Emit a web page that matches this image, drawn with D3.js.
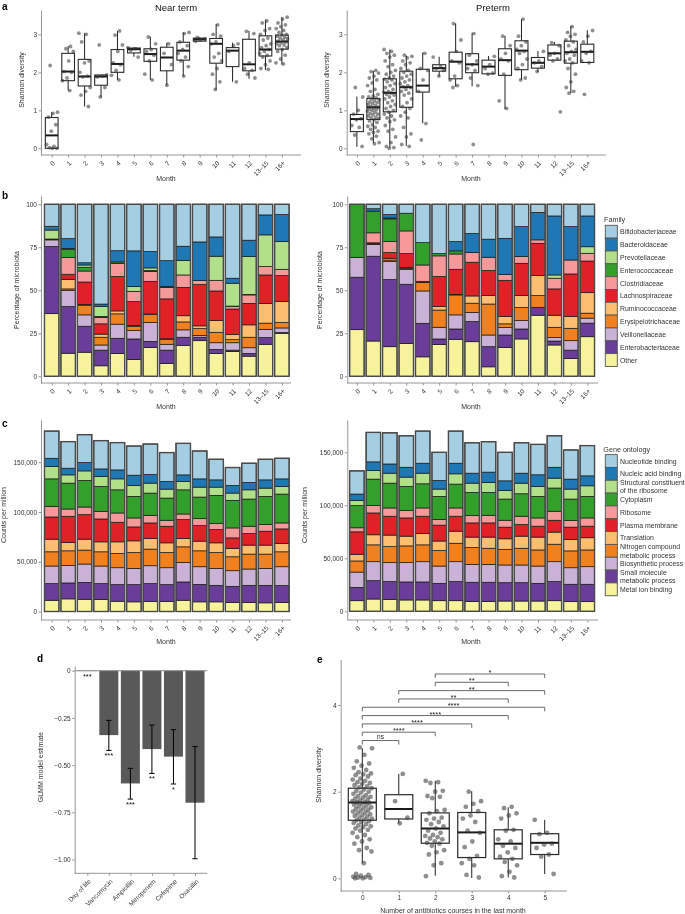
<!DOCTYPE html>
<html><head><meta charset="utf-8">
<script src="https://cdn.jsdelivr.net/npm/d3@7"></script>
<style>body{margin:0;background:#fff} svg{font-family:"Liberation Sans",Arial,Helvetica,sans-serif;will-change:transform;transform:translateZ(0);-webkit-font-smoothing:antialiased}</style>
</head><body><svg id="fig" width="685" height="914"></svg>
<script>
// ---------------- DATA ----------------
const months = ["0","1","2","3","4","5","6","7","8","9","10","11","12","13–15","16+"];

// Panel a: Shannon diversity, near term
const nearTermPoints = [
 [2.18,0.95,0.92,0.82,0.62,0.45,0.10,0.05,0.02,0.00,0.00],
 [2.68,2.62,2.55,2.30,2.02,2.00,1.85,1.78,1.52],
 [3.03,3.00,2.80,2.30,2.25,2.00,1.90,1.88,1.60,1.50,1.40,1.10],
 [2.72,1.93,1.90,1.88,1.60,1.35],
 [3.09,2.98,2.72,2.55,2.25,2.20,2.05,1.92,1.80],
 [2.65,2.62,2.58,2.40],
 [2.93,2.75,2.60,2.55,2.45,2.30,1.95,1.80],
 [2.75,2.50,2.20,1.66],
 [3.05,3.02,2.80,2.70,2.60,2.50,2.40,2.30,2.15,1.90],
 [2.92,2.88,2.85,2.82],
 [3.25,3.00,2.95,2.80,2.75,2.50,2.40,2.30,2.10,1.95,1.75,1.55],
 [2.75,2.70,2.55,1.75],
 [3.08,3.02,2.25,2.10,2.05,1.95,1.85],
 [3.35,3.30,3.15,3.10,3.00,2.90,2.85,2.75,2.70,2.65,2.60,2.55,2.50,2.45,2.40,2.30,2.20,2.10,2.08],
 [3.45,3.40,3.30,3.25,3.20,3.15,3.10,3.05,3.00,2.98,2.95,2.92,2.90,2.88,2.85,2.82,2.80,2.78,2.75,2.72,2.70,2.65,2.60,2.55,2.45,2.35,2.25,2.22]
];
// [lower whisker, Q1, median, Q3, upper whisker]
const nearTermBox = [
 [0,0,0.34,0.81,0.95],[1.52,1.78,2.02,2.50,2.69],[1.10,1.64,1.89,2.34,3.03],[1.35,1.66,1.89,1.93,1.93],
 [1.80,2.00,2.22,2.60,3.09],[2.41,2.51,2.61,2.64,2.65],[1.80,2.29,2.48,2.62,2.94],[1.66,2.04,2.39,2.66,2.78],
 [1.90,2.32,2.57,2.79,3.05],[2.82,2.82,2.87,2.90,2.92],[1.55,2.24,2.75,2.89,3.27],[1.75,2.15,2.57,2.65,2.78],
 [1.83,2.04,2.21,2.87,3.09],[2.06,2.43,2.60,2.96,3.38],[2.20,2.61,2.81,2.98,3.45]
];
// Panel a: preterm
const pretermPoints = [
 [1.6,1.35,1.0,0.9,0.78,0.75,0.6,0.55,0.35,0.05],
 [2.05,2.02,1.98,1.9,1.85,1.8,1.72,1.65,1.55,1.5,1.42,1.38,1.35,1.33,1.3,1.28,1.25,1.22,1.2,1.18,1.15,1.12,1.1,1.08,1.06,1.04,1.02,1.0,0.98,0.95,0.92,0.9,0.88,0.85,0.82,0.8,0.78,0.75,0.72,0.68,0.62,0.58,0.55,0.5,0.45,0.42,0.38,0.32,0.25,0.15,0.12],
 [2.6,2.55,2.5,2.45,2.4,2.3,2.2,2.15,2.05,2.0,1.95,1.9,1.85,1.82,1.8,1.75,1.7,1.65,1.6,1.55,1.5,1.48,1.45,1.42,1.4,1.35,1.3,1.25,1.2,1.15,1.1,1.05,1.0,0.95,0.9,0.85,0.8,0.75,0.7,0.6,0.5,0.45,0.3,0.15,0.05,0.02,0.0],
 [2.45,2.42,2.38,2.3,2.25,2.2,2.1,2.05,2.0,1.95,1.9,1.85,1.8,1.75,1.7,1.65,1.62,1.6,1.55,1.5,1.45,1.4,1.3,1.2,1.1,1.05,0.95,0.85,0.8,0.55,0.38,0.3,0.1,0.05],
 [2.5,2.1,2.05,1.8,1.5,0.65,0.22],
 [2.4,2.15,2.1,2.05,1.9],
 [3.28,2.85,2.55,2.3,2.25,1.9,1.8,1.65,1.6],
 [3.02,2.45,2.3,2.2,2.1,2.05,1.85,1.65,0.1],
 [2.42,2.2,2.1,1.98,1.95],
 [2.95,2.7,2.5,2.35,2.3,1.95,1.25,1.05],
 [3.4,2.95,2.8,2.7,2.6,2.55,2.5,2.35,2.2,2.1,1.85,1.8],
 [2.55,2.3,2.25,2.15,2.02],
 [2.78,2.7,2.5,2.45,2.35,2.3,0.96],
 [3.2,3.05,3.0,2.95,2.85,2.8,2.7,2.6,2.55,2.5,2.45,2.35,2.3,2.25,2.1,1.95,1.75,1.6,1.5,1.45],
 [3.1,2.95,2.8,2.55,2.5,2.3,2.25,1.42]
];
const pretermBox = [
 [0.04,0.44,0.77,0.89,1.36],[0.13,0.76,1.08,1.31,2.04],[0.02,0.96,1.46,1.83,2.6],[0.06,1.08,1.61,2.03,2.44],
 [0.66,1.48,1.65,2.08,2.52],[1.9,2.03,2.11,2.2,2.41],[1.62,1.83,2.28,2.53,3.29],[1.63,1.99,2.21,2.49,3.04],
 [1.96,1.96,2.15,2.32,2.43],[1.03,1.92,2.32,2.62,2.96],[1.8,2.07,2.57,2.83,3.4],[2.01,2.11,2.25,2.39,2.56],
 [2.32,2.32,2.5,2.72,2.8],[1.45,2.24,2.53,2.82,3.22],[2.26,2.26,2.54,2.74,3.11]
];

// Panel b: families, bottom to top of stack
const families = ["Other","Enterobacteriaceae","Veillonellaceae","Erysipelotrichaceae","Ruminococcaceae","Lachnospiraceae","Clostridiaceae","Enterococcaceae","Prevotellaceae","Bacteroidaceae","Bifidobacteriaceae"];
const familyColors = ["#f7f39c","#6a3d9a","#cab2d6","#f1801f","#fdbf6f","#df2226","#f59a9a","#33a02c","#b2df8a","#1f78b4","#a6cee3"];
// cumulative percentage (top of each family) per month
const nearTermFamilyCum = [
 [36.4,75.4,79.3,79.3,79.3,79.5,79.5,79.8,85.0,87.2,100],
 [13.4,40.5,50.0,50.8,56.4,59.3,69.0,73.8,74.3,80.0,100],
 [14.0,29.1,35.7,41.3,41.8,54.8,61.2,63.4,64.7,66.0,100],
 [6.1,15.2,18.2,22.7,24.5,30.5,34.2,34.8,40.5,42.0,100],
 [13.3,22.1,30.3,36.3,38.0,58.0,65.5,66.5,66.5,73.0,100],
 [9.8,21.7,26.6,29.0,29.5,43.4,49.4,49.4,52.1,72.9,100],
 [16.8,20.3,31.3,35.9,36.2,55.2,61.0,61.5,63.0,72.5,100],
 [7.4,15.2,18.6,21.5,21.8,45.0,51.7,52.2,52.2,67.2,100],
 [18.0,22.7,27.0,31.6,35.2,51.7,58.9,58.9,67.4,75.6,100],
 [20.7,22.7,23.8,27.7,29.3,53.3,55.6,55.6,55.6,78.1,100],
 [13.3,15.6,19.5,25.6,32.4,49.6,55.8,55.8,69.8,81.0,100],
 [14.5,15.2,19.5,21.3,24.2,39.1,40.5,40.8,54.1,57.0,100],
 [11.7,13.3,16.6,22.7,29.9,42.4,47.3,47.6,69.6,79.1,100],
 [18.6,22.5,27.3,30.9,42.4,58.9,63.8,63.8,82.2,93.8,100],
 [25.0,25.4,28.1,31.3,43.4,58.5,62.2,62.2,78.3,94.0,100]
];
const pretermFamilyCum = [
 [27.1,57.6,69.0,69.0,69.0,69.0,69.0,100,100,100,100],
 [20.5,69.8,76.7,77.0,77.0,77.6,83.4,96.0,96.0,97.4,100],
 [17.2,56.2,66.7,67.6,68.6,71.9,78.3,91.5,92.0,94.0,100],
 [19.0,53.5,62.2,62.7,63.2,71.3,84.5,94.8,94.8,94.8,100],
 [11.3,30.8,49.6,54.6,54.6,55.2,64.7,77.7,77.7,77.7,100],
 [18.4,21.7,28.5,38.5,40.5,58.0,70.0,71.3,71.3,71.3,100],
 [21.5,27.5,35.7,47.3,47.6,62.2,71.1,72.9,72.9,78.3,100],
 [20.1,31.8,37.1,42.5,46.7,66.3,72.0,72.0,72.0,83.0,100],
 [5.5,17.2,24.0,42.0,47.0,61.5,69.2,69.2,69.2,79.7,100],
 [16.8,24.0,28.3,30.5,34.8,55.8,59.1,59.1,59.1,80.2,100],
 [21.7,27.5,32.4,40.0,47.0,65.7,69.6,69.6,69.6,87.0,100],
 [35.5,40.1,40.1,46.9,58.5,77.3,79.3,79.3,79.3,95.3,100],
 [18.2,20.5,22.5,28.5,35.5,50.8,57.0,57.0,58.9,93.2,100],
 [10.4,15.2,20.7,27.9,34.8,59.5,67.6,67.6,67.6,87.0,100],
 [23.0,30.9,33.8,36.7,48.6,67.0,71.5,71.5,75.3,93.2,100]
];

// Panel c: gene ontology, bottom to top of stack
const goTerms = ["Metal ion binding","Small molecule\nmetabolic process","Biosynthetic process","Nitrogen compound\nmetabolic process","Translation","Plasma membrane","Ribosome","Cytoplasm","Structural constituent\nof the ribosome","Nucleic acid binding","Nucleotide binding"];
const goColors = familyColors;
// cumulative counts per million (thousands) per month
const nearTermGoCumK = [
 [11.3,28.0,45.7,60.0,72.7,95.0,105.7,133.3,145.7,154.0,181.3],
 [12.7,28.7,46.3,61.0,69.3,95.7,103.0,129.0,137.3,144.0,170.7],
 [12.3,29.3,47.7,61.7,72.7,97.3,105.0,131.7,141.3,149.7,177.7],
 [12.0,28.0,45.7,60.0,70.0,93.0,100.7,125.7,135.7,143.3,171.7],
 [10.3,27.0,44.0,58.3,70.0,89.7,99.0,122.3,133.3,142.3,169.7],
 [9.7,27.0,43.3,59.3,71.0,85.0,94.0,115.7,126.7,137.0,166.3],
 [10.0,28.0,46.0,62.7,73.3,89.0,96.7,119.0,129.0,137.7,168.3],
 [10.0,27.0,44.0,59.3,69.0,85.7,91.7,114.0,123.0,130.7,159.7],
 [11.3,29.7,49.3,65.0,73.3,92.3,98.0,122.3,130.7,137.3,169.0],
 [9.7,27.3,45.0,61.0,70.7,86.3,93.3,115.0,125.0,133.3,161.3],
 [9.7,26.3,43.3,59.3,69.0,82.3,88.3,116.7,125.0,132.3,153.0],
 [9.0,25.3,41.0,55.0,63.3,74.0,84.0,111.7,119.0,126.7,144.7],
 [9.0,26.3,42.7,57.7,66.7,78.3,85.7,113.0,122.3,129.7,149.0],
 [8.7,26.3,43.3,57.7,66.7,80.7,87.3,115.7,124.0,132.3,153.0],
 [9.0,26.0,45.0,60.0,68.3,83.0,89.0,118.0,125.7,133.3,154.0]
];
const pretermGoCumK = [
 [10.0,22.6,37.0,47.5,53.8,75.0,78.8,99.7,104.7,110.6,132.5],
 [11.6,28.9,46.8,62.7,72.2,92.8,99.7,124.7,132.8,141.0,168.8],
 [11.3,28.0,45.9,61.0,71.9,89.7,97.5,120.9,130.3,139.0,168.4],
 [10.7,27.7,45.9,61.7,70.9,88.1,95.0,117.8,126.6,135.9,165.6],
 [10.7,27.7,46.8,62.7,73.4,89.7,97.5,120.3,130.3,139.7,170.0],
 [10.0,26.4,42.7,57.3,66.3,81.3,86.6,108.4,115.3,123.4,150.0],
 [10.0,28.0,46.8,64.2,75.6,89.7,97.5,120.0,129.7,139.7,170.0],
 [9.4,27.4,44.3,60.1,70.0,83.4,90.3,112.2,120.9,130.3,159.0],
 [9.4,27.4,44.3,59.5,70.0,83.4,90.6,112.2,121.6,131.3,160.0],
 [9.7,27.0,43.7,58.5,68.4,79.4,85.9,105.9,114.1,123.1,150.0],
 [9.7,27.0,43.7,59.5,70.9,81.9,89.7,110.9,120.9,130.3,159.0],
 [9.7,26.4,42.7,57.9,70.0,80.3,88.1,108.4,117.8,128.8,157.5],
 [10.0,28.0,46.8,63.3,74.7,85.9,94.4,116.3,125.6,135.9,165.6],
 [9.1,25.5,41.1,57.0,67.8,79.4,85.6,105.9,115.3,124.7,152.2],
 [9.1,25.5,42.1,57.9,69.4,80.3,88.1,108.4,118.4,127.8,156.3]
];

// Panel d: GLMM
const drugs = ["Day of life","Vancomycin","Ampicillin","Meropenem","Cefepime","Oxacillin"];
const estimates = [-0.002,-0.341,-0.597,-0.415,-0.455,-0.699];
const ciLow = [-0.004,-0.422,-0.680,-0.544,-0.600,-0.996];
const ciHigh = [0.0,-0.263,-0.517,-0.288,-0.312,-0.402];
const glmmSignif = ["***","***","***","**","*",""];

// Panel e
const courses = ["0","1","2","3","4","5"];
const coursePoints = [
 [3.02,3.0,2.85,2.7,2.65,2.6,2.55,2.5,2.45,2.42,2.4,2.38,2.35,2.3,2.28,2.25,2.22,2.2,2.18,2.15,2.12,2.1,2.08,2.05,2.02,2.0,1.98,1.95,1.92,1.9,1.88,1.86,1.84,1.82,1.8,1.78,1.76,1.75,1.74,1.72,1.7,1.68,1.66,1.64,1.62,1.6,1.58,1.56,1.54,1.52,1.5,1.48,1.46,1.44,1.42,1.4,1.38,1.36,1.34,1.32,1.3,1.28,1.25,1.22,1.2,1.18,1.15,1.12,1.1,1.05,1.0,0.95,0.9,0.85,0.8,0.7,0.65,0.62,0.35,0.1,0.08,0.06,0.04,0.03,0.02,0.01,0.0,0.0],
 [2.41,1.78,1.4,1.27],
 [2.25,2.22,2.2,2.02,2.0,1.9,1.88,1.85,1.58,1.55,1.5,1.4,1.38,1.35,1.3,1.25,1.2,1.15,1.1,1.05,1.0,0.98,0.95,0.92,0.9,0.85,0.82,0.8,0.75,0.65,0.6,0.55,0.35,0.3,0.05],
 [2.0,1.78,1.72,1.65,1.55,1.45,1.38,1.3,1.1,1.05,0.85,0.72,0.52,0.45,0.35,0.3,0.08,0.02],
 [1.65,1.62,1.5,1.45,1.38,1.12,1.1,0.9,0.85,0.75,0.7,0.6,0.5,0.45,0.38,0.3,0.15,0.05,0.02],
 [1.35,1.05,1.02,0.8,0.78,0.7,0.55,0.5,0.1]
];
const courseBox = [
 [0.35,1.34,1.75,2.08,3.0],[1.27,1.37,1.6,1.93,2.41],[0.06,0.81,1.15,1.51,2.25],
 [0.01,0.48,1.06,1.52,2.01],[0.02,0.45,0.8,1.12,1.64],[0.1,0.55,0.82,1.03,1.35]
];
// comparisons (from lowest bracket up)
const compFrom = ["0","0","0","0","0","1","1","2","2"];
const compTo   = ["1","2","3","4","5","4","5","4","5"];
const compLabel = ["ns","****","****","****","****","**","**","**","*"];

// ---------------- DRAWING ----------------
const svg = d3.select("#fig");
const AX = "#8a8a8a", TXT = "#333";

function styleAxis(ax, fs) {
  ax.select(".domain").attr("stroke", AX).attr("stroke-width", 0.9);
  ax.selectAll(".tick line").attr("stroke", AX).attr("stroke-width", 0.9);
  ax.selectAll(".tick text").attr("fill", TXT).style("font-size", (fs||6.5) + "px");
}
function yAxis(scale, x, ticks, fmt) {
  const ax = svg.append("g").attr("transform", `translate(${x},0)`)
    .call(d3.axisLeft(scale).tickValues(ticks).tickFormat(fmt).tickSize(2.5).tickPadding(1.5).tickSizeOuter(0));
  styleAxis(ax);
  return ax;
}
function xAxisCat(scale, y, x0, x1, rotate) {
  svg.append("line").attr("x1", x0).attr("x2", x1).attr("y1", y).attr("y2", y).attr("stroke", AX).attr("stroke-width", 0.9);
  const ax = svg.append("g").attr("transform", `translate(0,${y})`)
    .call(d3.axisBottom(scale).tickSize(2.5).tickSizeOuter(0));
  ax.select(".domain").remove();
  styleAxis(ax);
  if (rotate) {
    ax.selectAll(".tick text").attr("x", 0).attr("y", 0).attr("dy", "0.35em")
      .attr("text-anchor", "end").attr("transform", "translate(1.5,7) rotate(-45)");
  }
  return ax;
}
function text(x, y, s, opts) {
  opts = opts || {};
  const t = svg.append("text").attr("x", x).attr("y", y).text(s)
    .attr("fill", opts.fill || TXT).attr("text-anchor", opts.anchor || "middle")
    .style("font-size", (opts.size || 7.5) + "px");
  if (opts.bold) t.style("font-weight", "bold");
  if (opts.rot) t.attr("transform", `rotate(${opts.rot},${x},${y})`);
  return t;
}
function jitter(i) { return ((i * 0.6180339887 + 0.37) % 1) - 0.5; }

function boxPanel(points, boxes, cats, x, y, bw, jw, r, boxStroke) {
  const g = svg.append("g");
  boxes.forEach((b, i) => {
    const cx = x(cats[i]);
    g.append("line").attr("x1", cx).attr("x2", cx).attr("y1", y(b[0])).attr("y2", y(b[1])).attr("stroke", "#222").attr("stroke-width", 1);
    g.append("line").attr("x1", cx).attr("x2", cx).attr("y1", y(b[3])).attr("y2", y(b[4])).attr("stroke", "#222").attr("stroke-width", 1);
    g.append("rect").attr("x", cx - bw / 2).attr("y", y(b[3])).attr("width", bw).attr("height", Math.max(0.5, y(b[1]) - y(b[3])))
      .attr("fill", "#fff").attr("stroke", "#2b2b2b").attr("stroke-width", boxStroke);
    g.append("line").attr("x1", cx - bw / 2).attr("x2", cx + bw / 2).attr("y1", y(b[2])).attr("y2", y(b[2])).attr("stroke", "#1a1a1a").attr("stroke-width", 2);
  });
  points.forEach((arr, i) => {
    const cx = x(cats[i]);
    g.selectAll(null).data(arr).enter().append("circle")
      .attr("cx", (d, j) => cx + jitter(j + i * 7) * 2 * jw)
      .attr("cy", d => y(d)).attr("r", r)
      .attr("fill", "#333").attr("fill-opacity", 0.55);
  });
}

function stackPanel(cum, x, y, bw, colors, mult) {
  const g = svg.append("g");
  cum.forEach((tops, i) => {
    const cx = x(months[i]);
    let prev = 0;
    tops.forEach((t, k) => {
      const top = t * mult, bot = prev * mult;
      if (top - bot > 0.0001) {
        g.append("rect").attr("x", cx - bw / 2).attr("y", y(top)).attr("width", bw).attr("height", y(bot) - y(top))
          .attr("fill", colors[k]).attr("stroke", "#151515").attr("stroke-width", 0.7);
      }
      prev = t;
    });
    g.append("rect").attr("x", cx - bw / 2).attr("y", y(tops[tops.length - 1] * mult)).attr("width", bw)
      .attr("height", y(0) - y(tops[tops.length - 1] * mult)).attr("fill", "none").attr("stroke", "#4a4a4a").attr("stroke-width", 1.4);
  });
}

// ----- Panel labels -----
text(2, 10, "a", {bold: true, size: 10, anchor: "start", fill: "#000"});
text(2, 199, "b", {bold: true, size: 10, anchor: "start", fill: "#000"});
text(2, 427, "c", {bold: true, size: 10, anchor: "start", fill: "#000"});
text(37, 662, "d", {bold: true, size: 10, anchor: "start", fill: "#000"});
text(317, 663, "e", {bold: true, size: 10, anchor: "start", fill: "#000"});

// ----- Panel a -----
const xL = d3.scalePoint().domain(months).range([51.7, 281.9]);
const xR = d3.scalePoint().domain(months).range([356.9, 587.3]);
const stepL = xL.step();
const yA = d3.scaleLinear().domain([-0.176, 3.64]).range([155, 10]);
yAxis(yA, 41, [0, 1, 2, 3], d3.format("d"));
xAxisCat(xL, 155, 41, 301, true);
boxPanel(nearTermPoints, nearTermBox, months, xL, yA, 12.7, 6, 1.9, 1.1);
yAxis(yA, 346.7, [0, 1, 2, 3], d3.format("d"));
xAxisCat(xR, 155, 346.7, 605.7, true);
boxPanel(pretermPoints, pretermBox, months, xR, yA, 13, 6, 1.9, 1.1);
text(176, 10.5, "Near term", {size: 9.5, fill: "#111"});
text(493, 10.5, "Preterm", {size: 9.5, fill: "#111"});
text(24, 80, "Shannon diversity", {rot: -90, size: 7});
text(329, 80, "Shannon diversity", {rot: -90, size: 7});
text(166, 180.5, "Month", {size: 7});
text(471, 180.5, "Month", {size: 7});

// ----- Panel b -----
const yB = d3.scaleLinear().domain([-3.9, 104.8]).range([383, 196]);
const bwB = stepL * 0.88;
stackPanel(nearTermFamilyCum, xL, yB, bwB, familyColors, 1);
yAxis(yB, 41, [0, 25, 50, 75, 100], d3.format("d"));
xAxisCat(xL, 383, 41, 291, true);
stackPanel(pretermFamilyCum, xR, yB, bwB, familyColors, 1);
yAxis(yB, 347.3, [0, 25, 50, 75, 100], d3.format("d"));
xAxisCat(xR, 383, 347.3, 598, true);
text(19, 290, "Percentage of microbiota", {rot: -90, size: 7});
text(322, 290, "Percentage of microbiota", {rot: -90, size: 7});
text(166, 409, "Month", {size: 7});
text(471, 409, "Month", {size: 7});
// legend b
text(604, 221.5, "Family", {anchor: "start", size: 7.2});
const legB = families.slice().reverse();
const legBCol = familyColors.slice().reverse();
const keyH = 12.83;
legB.forEach((name, i) => {
  const top = 225.3 + i * keyH;
  svg.append("rect").attr("x", 605.3).attr("y", top).attr("width", 12).attr("height", keyH)
    .attr("fill", legBCol[i]).attr("stroke", "#555").attr("stroke-width", 0.9);
  text(620, top + keyH / 2 + 2.5, name, {anchor: "start", size: 6.9});
});

// ----- Panel c -----
const yCL = d3.scaleLinear().domain([-8540, 192460]).range([620, 420]);
const yCR = d3.scaleLinear().domain([-8200, 180480]).range([620, 420]);
stackPanel(nearTermGoCumK, xL, yCL, bwB, goColors, 1000);
yAxis(yCL, 41, [0, 50000, 100000, 150000], d3.format(","));
xAxisCat(xL, 620, 41, 291, true);
stackPanel(pretermGoCumK, xR, yCR, bwB, goColors, 1000);
yAxis(yCR, 347.3, [0, 50000, 100000, 150000], d3.format(","));
xAxisCat(xR, 620, 347.3, 598, true);
text(6, 515, "Counts per million", {rot: -90, size: 7});
text(307, 515, "Counts per million", {rot: -90, size: 7});
text(166, 644, "Month", {size: 7});
text(471, 644, "Month", {size: 7});
// legend c
text(603.3, 451.5, "Gene ontology", {anchor: "start", size: 7.2});
const legC = goTerms.slice().reverse();
const legCCol = goColors.slice().reverse();
legC.forEach((name, i) => {
  const top = 454.6 + i * keyH;
  svg.append("rect").attr("x", 605.3).attr("y", top).attr("width", 12).attr("height", keyH)
    .attr("fill", legCCol[i]).attr("stroke", "#555").attr("stroke-width", 0.9);
  const lines = name.split("\n");
  const cy = top + keyH / 2;
  lines.forEach((ln, j) => {
    const off = lines.length === 1 ? 0 : (j === 0 ? -4.2 : 4.2);
    text(620, cy + off + 2.5, ln, {anchor: "start", size: 6.9});
  });
});

// ----- Panel d -----
const xD = d3.scalePoint().domain(drugs).range([87.3, 195]);
const yD = d3.scaleLinear().domain([-1.073, 0.025]).range([873.3, 666]);
const gD = svg.append("g");
drugs.forEach((dname, i) => {
  const cx = xD(dname);
  gD.append("rect").attr("x", cx - 9.5).attr("y", yD(0)).attr("width", 19).attr("height", Math.max(0.3, yD(estimates[i]) - yD(0)))
    .attr("fill", "#595959");
});
gD.append("line").attr("x1", 74.7).attr("x2", 207.3).attr("y1", yD(0)).attr("y2", yD(0)).attr("stroke", "#8a8a8a").attr("stroke-width", 1);
drugs.forEach((dname, i) => {
  const cx = xD(dname);
  if (i > 0) {
    gD.append("line").attr("x1", cx).attr("x2", cx).attr("y1", yD(ciHigh[i])).attr("y2", yD(ciLow[i])).attr("stroke", "#000").attr("stroke-width", 1);
    [ciHigh[i], ciLow[i]].forEach(v => gD.append("line").attr("x1", cx - 2.7).attr("x2", cx + 2.7).attr("y1", yD(v)).attr("y2", yD(v)).attr("stroke", "#000").attr("stroke-width", 1));
  }
  if (glmmSignif[i]) text(cx, yD(ciLow[i]) + 8, glmmSignif[i], {size: 7.5, fill: "#111"});
});
yAxis(yD, 74.7, [0, -0.25, -0.5, -0.75, -1], d => d === 0 ? "0" : d3.format(".2f")(d));
{
  svg.append("line").attr("x1", 74.7).attr("x2", 207.3).attr("y1", 873.3).attr("y2", 873.3).attr("stroke", AX).attr("stroke-width", 0.9);
  const ax = svg.append("g").attr("transform", "translate(0,873.3)").call(d3.axisBottom(xD).tickSize(2.5).tickSizeOuter(0));
  ax.select(".domain").remove();
  styleAxis(ax);
  ax.selectAll(".tick text").attr("x", 0).attr("y", 0).attr("dy", "0.35em").attr("text-anchor", "end").attr("transform", "translate(2,7) rotate(-45)");
}
text(43, 767, "GLMM model estimate", {rot: -90, size: 7});

// ----- Panel e -----
const xE = d3.scalePoint().domain(courses).range([362.3, 544.7]);
const yE = d3.scaleLinear().domain([-0.292, 5.05]).range([891, 659.5]);
yAxis(yE, 340.7, [0, 2, 4], d3.format("d"));
{
  svg.append("line").attr("x1", 340.7).attr("x2", 566.7).attr("y1", 891).attr("y2", 891).attr("stroke", AX).attr("stroke-width", 0.9);
  const ax = svg.append("g").attr("transform", "translate(0,891)").call(d3.axisBottom(xE).tickSize(2.5).tickPadding(2).tickSizeOuter(0));
  ax.select(".domain").remove();
  styleAxis(ax);
}
boxPanel(coursePoints, courseBox, courses, xE, yE, 28, 10, 2.4, 1.2);
const gS = svg.append("g");
compFrom.forEach((f, i) => {
  const level = 3.18 + i * 0.192;
  const yy = yE(level), x1 = xE(f), x2 = xE(compTo[i]);
  gS.append("path").attr("d", `M${x1},${yy + 4}V${yy}H${x2}V${yy + 4}`).attr("fill", "none").attr("stroke", "#444").attr("stroke-width", 0.8);
  const lab = compLabel[i];
  text((x1 + x2) / 2, lab === "ns" ? yy - 1.5 : yy + 1, lab, {size: lab === "ns" ? 6.5 : 7.5, fill: "#222"});
});
text(320.7, 775, "Shannon diversity", {rot: -90, size: 7});
text(453, 913, "Number of antibiotics courses in the last month", {size: 7});
</script></body></html>
